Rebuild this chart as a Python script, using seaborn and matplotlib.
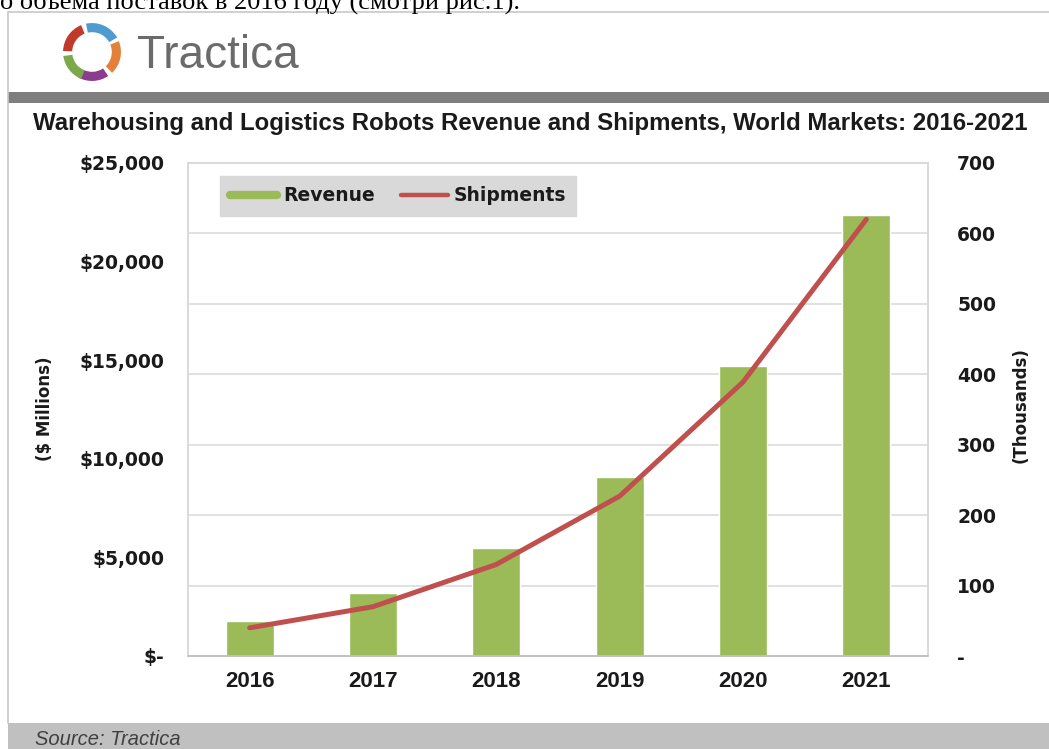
import numpy as np
import pandas as pd
import matplotlib
matplotlib.use("Agg")
import matplotlib.pyplot as plt
from matplotlib.patches import Rectangle, Wedge
from matplotlib.lines import Line2D
from matplotlib.ticker import FixedLocator
import seaborn as sns

# ---- data -------------------------------------------------------------
years = ["2016", "2017", "2018", "2019", "2020", "2021"]
revenue = [1800, 3200, 5500, 9100, 14700, 22350]        # $ millions
shipments = [40, 70, 130, 227, 389, 620]                 # thousands of units

rev_ticks = [0, 5000, 10000, 15000, 20000, 25000]
rev_labels = ["$-", "$5,000", "$10,000", "$15,000", "$20,000", "$25,000"]
ship_ticks = [0, 100, 200, 300, 400, 500, 600, 700]
ship_labels = ["-", "100", "200", "300", "400", "500", "600", "700"]

title = "Warehousing and Logistics Robots Revenue and Shipments, World Markets: 2016-2021"
lead_in = "о объема поставок в 2016 году (смотри рис.1)."

BAR_GREEN = "#9bbb59"
LINE_RED = "#c0504d"
GRID = "#d9d9d9"
INK = "#1a1a1a"

sns.set_theme(style="white")
plt.rcParams["font.family"] = ["DejaVu Sans"]

W, H = 1049, 749
fig = plt.figure(figsize=(W / 100, H / 100), dpi=100)
fig.patch.set_facecolor("white")


def fx(x):
    return x / W


def fy(y):
    return 1 - y / H


ARIAL = ["Liberation Sans", "DejaVu Sans"]

# ---- page furniture -----------------------------------------------------
fig.text(fx(0), fy(9), lead_in, fontfamily="Liberation Serif", fontsize=19,
         va="baseline", ha="left", color="black")

# panel frame
fig.add_artist(Line2D([fx(8), 1], [fy(12), fy(12)], color="#c8c8c8", lw=1.2))
fig.add_artist(Line2D([fx(8), fx(8)], [fy(12), fy(723)], color="#c8c8c8", lw=1.2))
# dark band under the logo
fig.add_artist(Rectangle((fx(8), fy(103)), 1 - fx(8), (103 - 92) / H,
                         facecolor="#7f7f7f", edgecolor="none"))
# source band
fig.add_artist(Rectangle((fx(8), 0), 1 - fx(8), (749 - 723) / H,
                         facecolor="#c0c0c0", edgecolor="none"))
fig.text(fx(35), fy(745), "Source: Tractica", fontfamily=ARIAL, style="italic",
         fontsize=14.5, color="#404040", va="baseline")

# logo mark: five coloured blades around a ring
logo_ax = fig.add_axes([fx(60), fy(84), (124 - 60) / W, (84 - 20) / H])
logo_ax.set_xlim(-1.05, 1.05)
logo_ax.set_ylim(-1.05, 1.05)
logo_ax.set_aspect("equal")
logo_ax.axis("off")
segments = [
    (112, 178, "#c0392b"),
    (30, 102, "#4f9bd0"),
    (-46, 22, "#e3803a"),
    (-118, -56, "#8b3c8e"),
    (188, 248, "#7aa84a"),
]
for a0, a1, col in segments:
    logo_ax.add_patch(Wedge((0, 0), 0.95, a0, a1, width=0.3,
                            facecolor=col, edgecolor="none"))
fig.text(fx(137), fy(68), "Tractica", fontfamily=ARIAL, fontsize=33,
         color="#6b6b6b", va="baseline", ha="left")

fig.text(fx(33), fy(130), title, fontfamily=ARIAL, fontweight="bold",
         fontsize=17.3, color=INK, ha="left", va="baseline")

# ---- chart --------------------------------------------------------------
ax = fig.add_axes([fx(188), fy(656), (928 - 188) / W, (656 - 163) / H])
df = pd.DataFrame({"year": years, "revenue": revenue, "shipments": shipments,
                   "pos": np.arange(len(years))})

REV_MAX, SHIP_MAX = 25000, 700

# horizontal gridlines follow the shipments scale, drawn behind the bars
ax.set_ylim(0, REV_MAX)
ax.yaxis.set_minor_locator(FixedLocator([t * REV_MAX / SHIP_MAX for t in ship_ticks]))
ax.grid(which="minor", axis="y", color=GRID, lw=1.1)
ax.grid(which="major", axis="y", visible=False)
ax.set_axisbelow(True)

sns.barplot(data=df, x="year", y="revenue", color=BAR_GREEN, saturation=1,
            width=0.39, ax=ax, zorder=2)
ax.set_xlim(-0.5, len(years) - 0.5)
ax.set_ylim(0, REV_MAX)
ax.set_yticks(rev_ticks)
ax.set_yticklabels(rev_labels)
ax.set_xlabel("")
ax.set_ylabel("")

ax2 = ax.twinx()
sns.lineplot(data=df, x="pos", y="shipments", color=LINE_RED, lw=3.6, ax=ax2,
             solid_capstyle="round")
ax2.set_ylim(0, SHIP_MAX)
ax2.set_xlim(-0.5, len(years) - 0.5)
ax2.set_yticks(ship_ticks)
ax2.set_yticklabels(ship_labels)
ax2.set_ylabel("")
ax2.set_xlabel("")

for a in (ax, ax2):
    for side in ("left", "right", "top"):
        a.spines[side].set_color(GRID)
        a.spines[side].set_linewidth(1.1)
    a.spines["bottom"].set_color("#bfbfbf")
    a.spines["bottom"].set_linewidth(1.1)

ax.tick_params(axis="y", which="both", length=0, pad=17, labelsize=13.5,
               labelcolor=INK)
for lab in ax.get_yticklabels():
    lab.set_fontweight("bold")
ax2.tick_params(axis="y", which="both", length=0, pad=21, labelsize=13.5,
                labelcolor=INK)
for lab in ax2.get_yticklabels():
    lab.set_fontweight("bold")

# category labels with boundary tick marks
ax.set_xticks(range(len(years)))
ax.set_xticklabels(years)
ax.tick_params(axis="x", which="major", length=0, pad=11, labelsize=16,
               labelcolor=INK)
for lab in ax.get_xticklabels():
    lab.set_fontfamily(ARIAL)
    lab.set_fontweight("bold")
ax.set_xticks(np.arange(-0.5, len(years)), minor=True)
ax.tick_params(axis="x", which="minor", length=9, width=1.1, color="#bfbfbf",
               direction="out")
ax2.tick_params(axis="x", which="both", length=0)

# axis titles
fig.text(fx(45), fy(409), "($ Millions)", rotation=90, fontsize=12,
         fontweight="bold", ha="center", va="center", color=INK)
fig.text(fx(1021), fy(405), "(Thousands)", rotation=90, fontsize=12,
         fontweight="bold", ha="center", va="center", color=INK)

# legend
handles = [Line2D([], [], color=BAR_GREEN, lw=6),
           Line2D([], [], color=LINE_RED, lw=3.2)]
leg = ax2.legend(handles, ["Revenue", "Shipments"], ncol=2,
                 loc="upper left",
                 bbox_to_anchor=((220 - 188) / 740, (656 - 176) / 493),
                 frameon=True, fancybox=False, facecolor="#d9d9d9",
                 edgecolor="#d9d9d9", framealpha=1,
                 prop={"weight": "bold", "size": 13.5},
                 handlelength=2.5, handletextpad=0.3, columnspacing=1.4,
                 borderpad=0.55, borderaxespad=0)
for t in leg.get_texts():
    t.set_color(INK)

fig.savefig("out.png", dpi=100, facecolor="white")
